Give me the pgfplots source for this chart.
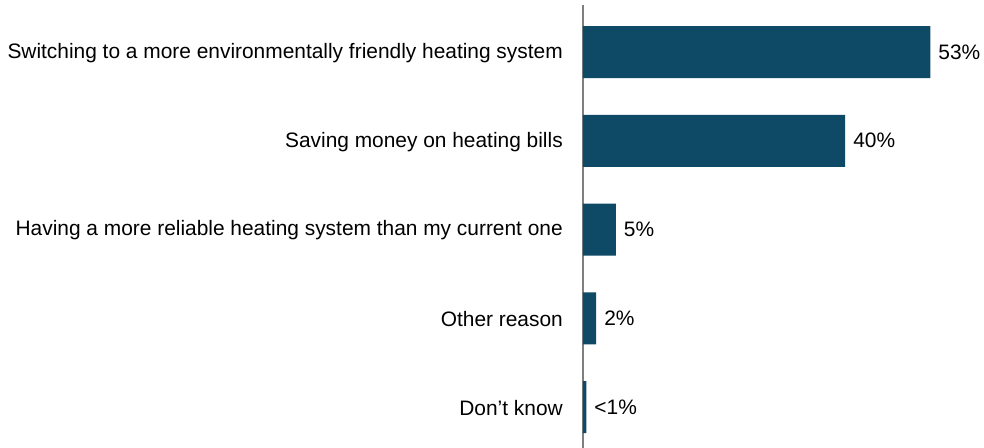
\documentclass[border=0pt]{standalone}
\usepackage{pgfplots}
\pgfplotsset{compat=1.18}
\usepackage{fontspec}
\setmainfont{Liberation Sans}
\definecolor{barblue}{HTML}{0E4A66}
\definecolor{axisgray}{HTML}{7F7F7F}

\begin{document}
\begin{tikzpicture}
\fontsize{20.9bp}{24bp}\selectfont
\begin{axis}[
  name=ax,
  at={(0,0)}, anchor=south west,
  scale only axis,
  width=401bp, height=443bp,
  xbar, bar width=52bp,
  xmin=0, xmax=61.2,
  ymin=-0.53, ymax=4.462,
  y dir=reverse,
  axis x line=none,
  axis y line*=left,
  axis line style={axisgray, line width=1.5bp, -},
  ytick={0,1,2,3,4},
  yticklabels={Switching to a more environmentally friendly heating system,
    Saving money on heating bills,
    Having a more reliable heating system than my current one,
    Other reason,
    Don’t know},
  major tick length=0pt,
  yticklabel style={inner sep=0pt, xshift=-20bp, yshift=-1bp, font=\fontsize{20.9bp}{24bp}\selectfont},
  point meta=explicit symbolic,
  nodes near coords={\pgfplotspointmeta},
  every node near coord/.append style={anchor=west, inner sep=0pt, xshift=8bp,
    font=\fontsize{20.9bp}{24bp}\selectfont, text=black},
  clip=false,
]
\addplot[fill=barblue, draw=none] coordinates {
  (53,0) [53\%]
  (40,1) [40\%]
  (5,2) [5\%]
  (2,3) [2\%]
  (0.5,4) [<1\%]
};
\end{axis}
\pgfresetboundingbox
\path[use as bounding box] (-583bp,0) rectangle (401bp,448bp);
\end{tikzpicture}
\end{document}
